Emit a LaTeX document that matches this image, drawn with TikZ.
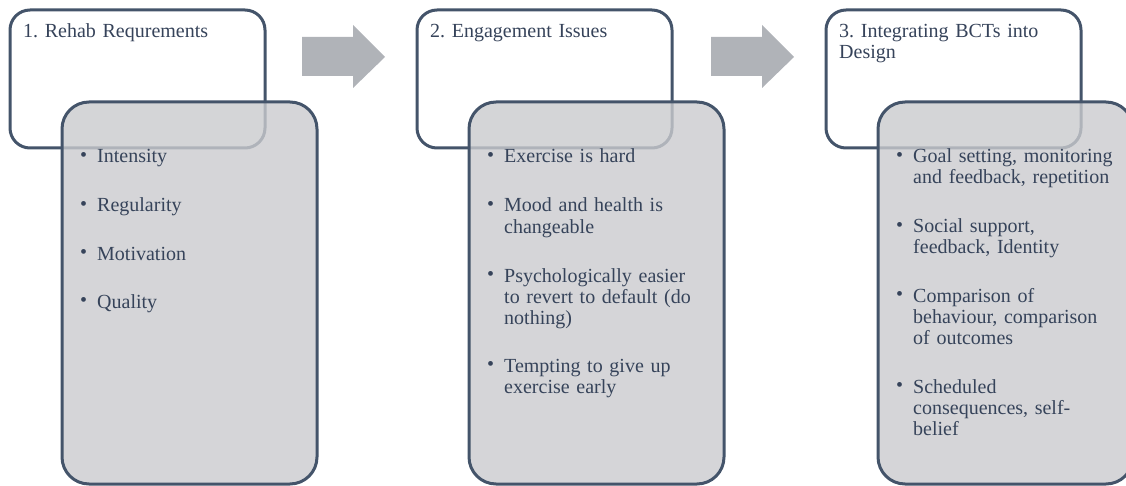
\documentclass[tikz,border=0pt]{standalone}
\usepackage{fontspec}
\setmainfont{Liberation Serif}
\frenchspacing
\definecolor{slate}{HTML}{44546A}
\definecolor{inkblue}{HTML}{36435A}
\definecolor{cardgrey}{HTML}{CACBCE}
\definecolor{arrowgrey}{HTML}{B0B3B8}
\tikzset{
	titlecard/.style={draw=slate, line width=3pt, rounded corners=20pt, fill=white},
	listcard/.style={draw=slate, line width=3pt, rounded corners=27pt, fill=cardgrey, fill opacity=0.8},
	cardtext/.style={text=inkblue, font=\fontsize{20}{21}\selectfont, inner sep=0pt, anchor=base west, align=left, text width=225pt},
	blockarrow/.style={fill=arrowgrey}
}
\newcommand{\stagecards}[3] % x of title card in pt, node name, title text
{
	% title card
	\draw[titlecard] (#1,10) rectangle ++(255,138);
	% list card, lying over the title card
	\draw[listcard] (#1+52,102) rectangle ++(255,382);
	% title
	\node[cardtext] (#2) at (#1+13,38) {#3};
}
\newcommand{\point}[4] % x of title card in pt, baseline y in pt, node name, text
{
	% bullet
	\node[cardtext, text width=10pt] (#3-dot) at (#1+70,#2-1.5) {\textbullet};
	% item text
	\node[cardtext] (#3) at (#1+87,#2) {#4};
}
\newcommand{\blockarrow}[1] % x of arrow tail in pt
{
	\fill[blockarrow] (#1,37) -- (#1+51,37) -- (#1+51,25) -- (#1+83,57)
		-- (#1+51,88) -- (#1+51,76) -- (#1,76) -- cycle;
}

\begin{document}
\begin{tikzpicture}[x=1pt,y=-1pt]
	% 1126 x 486 px, 1pt = 1px
	\useasboundingbox (0,0) rectangle (1126,486);
	\clip (0,0) rectangle (1126,486);
	% stage 1
	\stagecards{10}{rehab}{1. Rehab Requrements}
	\point{10}{163}{intensity}{Intensity}
	\point{10}{212}{regularity}{Regularity}
	\point{10}{260}{motivation}{Motivation}
	\point{10}{308}{quality}{Quality}
	\blockarrow{302}
	% stage 2
	\stagecards{417}{engage}{2. Engagement Issues}
	\point{417}{163}{hard}{Exercise is hard}
	\point{417}{212}{mood}{Mood and health is\\changeable}
	\point{417}{282}{default}{Psychologically easier\\to revert to default (do\\nothing)}
	\point{417}{372}{giveup}{Tempting to give up\\exercise early}
	\blockarrow{711}
	% stage 3
	\stagecards{826}{bcts}{3. Integrating BCTs into\\Design}
	\point{826}{163}{goal}{Goal setting, monitoring\\and feedback, repetition}
	\point{826}{233}{social}{Social support,\\feedback, Identity}
	\point{826}{302}{compare}{Comparison of\\behaviour, comparison\\of outcomes}
	\point{826}{393}{consequence}{Scheduled\\consequences, self-\\belief}
\end{tikzpicture}
\end{document}
